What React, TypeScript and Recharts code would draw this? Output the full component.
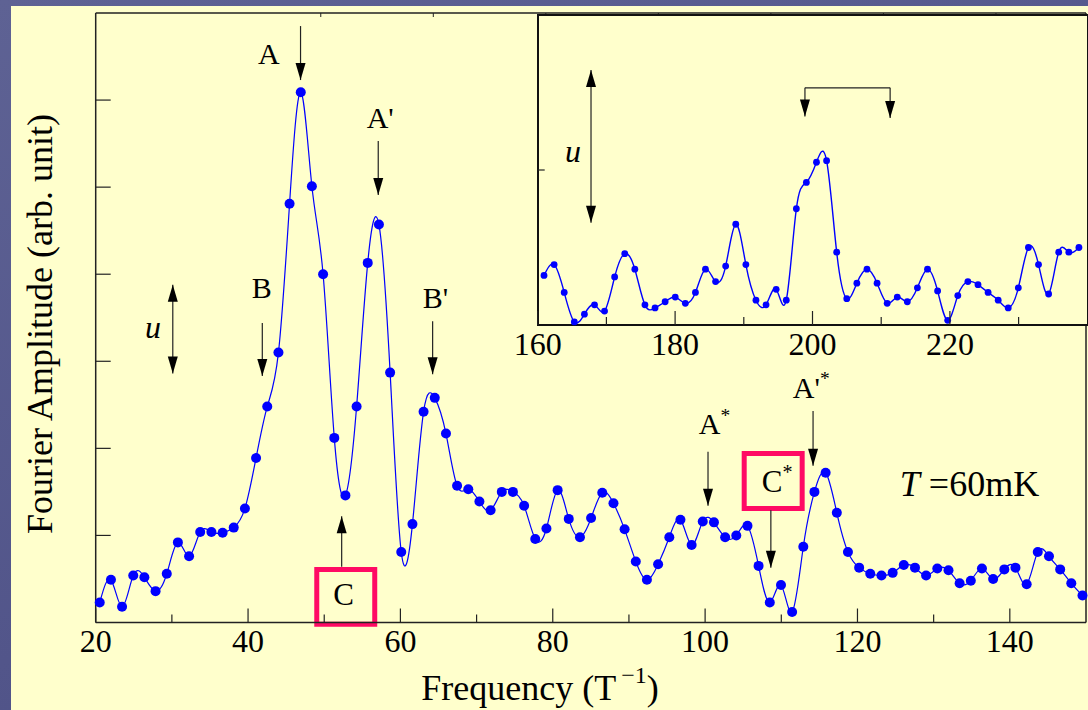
import React from "react";
import { LineChart, Line, XAxis, YAxis, ReferenceLine, ReferenceDot, ReferenceArea } from "recharts";

// Fourier spectrum at T = 60 mK (frequency in 1/T, amplitude in arb. units)
const freq = [
  20.53, 22.0, 23.46, 24.93, 26.39, 27.86, 29.33, 30.79, 32.26, 33.72,
  35.19, 36.66, 38.12, 39.59, 41.05, 42.52, 43.99, 45.45, 46.92, 48.38,
  49.85, 51.32, 52.78, 54.25, 55.71, 57.18, 58.65, 60.11, 61.58, 63.04,
  64.51, 65.98, 67.44, 68.91, 70.37, 71.84, 73.31, 74.77, 76.24, 77.7,
  79.17, 80.64, 82.1, 83.57, 85.03, 86.5, 87.97, 89.43, 90.9, 92.36,
  93.83, 95.3, 96.76, 98.23, 99.69, 101.16, 102.63, 104.09, 105.56, 107.02,
  108.49, 109.96, 111.42, 112.89, 114.35, 115.82, 117.29, 118.75, 120.22, 121.68,
  123.15, 124.62, 126.08, 127.55, 129.01, 130.48, 131.95, 133.41, 134.88, 136.34,
  137.81, 139.28, 140.74, 142.21, 143.67, 145.14, 146.61, 148.07, 149.54,
];
const amplitude = [
  0.23, 0.49, 0.18, 0.54, 0.52, 0.36, 0.56, 0.92, 0.76, 1.04,
  1.04, 1.03, 1.09, 1.31, 1.89, 2.48, 3.1, 4.81, 6.09, 5.01,
  4.0, 2.12, 1.46, 2.48, 4.13, 4.57, 2.87, 0.81, 1.13, 2.42,
  2.58, 2.17, 1.57, 1.53, 1.39, 1.29, 1.5, 1.5, 1.34, 0.96,
  1.08, 1.52, 1.19, 0.98, 1.2, 1.49, 1.37, 1.07, 0.7, 0.49,
  0.67, 0.98, 1.18, 0.89, 1.16, 1.15, 0.98, 1.0, 1.11, 0.65,
  0.23, 0.43, 0.12, 0.87, 1.5, 1.72, 1.26, 0.81, 0.63, 0.56,
  0.54, 0.57, 0.66, 0.63, 0.54, 0.62, 0.6, 0.45, 0.48, 0.62,
  0.5, 0.61, 0.63, 0.44, 0.81, 0.76, 0.61, 0.45, 0.31,
];

// high-frequency window (inset)
const insetFreq = [
  160.92, 162.39, 163.86, 165.33, 166.8, 168.27, 169.73, 171.2, 172.67, 174.14,
  175.61, 177.08, 178.55, 180.02, 181.49, 182.96, 184.42, 185.89, 187.36, 188.83,
  190.3, 191.77, 193.24, 194.71, 196.18, 197.65, 199.11, 200.58, 202.05, 203.52,
  204.99, 206.46, 207.93, 209.4, 210.87, 212.34, 213.8, 215.27, 216.74, 218.21,
  219.68, 221.15, 222.62, 224.09, 225.56, 227.03, 228.49, 229.96, 231.43, 232.9,
  234.37, 235.84, 237.31, 238.78,
];
const insetAmplitude = [
  0.32, 0.39, 0.21, 0.02, 0.07, 0.13, 0.09, 0.31, 0.46, 0.36,
  0.13, 0.11, 0.15, 0.18, 0.14, 0.21, 0.36, 0.28, 0.38, 0.65,
  0.39, 0.16, 0.13, 0.23, 0.16, 0.75, 0.92, 1.05, 1.06, 0.47,
  0.17, 0.27, 0.36, 0.27, 0.14, 0.18, 0.15, 0.24, 0.36, 0.22,
  0.03, 0.19, 0.28, 0.26, 0.21, 0.16, 0.11, 0.24, 0.5, 0.39,
  0.2, 0.47, 0.47, 0.5,
];

const mainTicks = [20, 30, 40, 50, 60, 70, 80, 90, 100, 110, 120, 130, 140];
const mainTickLabels = [20, 40, 60, 80, 100, 120, 140];
const ampTicks = [1, 2, 3, 4, 5, 6];
const insetTicks = [160, 170, 180, 190, 200, 210, 220, 230];
const insetTickLabels = [160, 180, 200, 220];

const mainData = freq.map((f, i) => ({ f, amp: amplitude[i] }));
const insetData = insetFreq.map((f, i) => ({ f, amp: insetAmplitude[i] }));

const serif = '"Liberation Serif", "Times New Roman", Times, serif';
const blue = "#0000ff";
const pink = "#ff0a64";
const ink = "#222";

// peak markers, in data units
const mainArrows = [
  { x: 46.89, from: 6.85, to: 6.23 },
  { x: 57.09, from: 5.53, to: 4.91 },
  { x: 41.87, from: 3.44, to: 2.83 },
  { x: 64.23, from: 3.46, to: 2.85 },
  { x: 30.12, from: 2.86, to: 3.88, both: true },
  { x: 52.29, from: 0.64, to: 1.22 },
  { x: 100.38, from: 1.96, to: 1.34 },
  { x: 108.63, from: 1.29, to: 0.63 },
  { x: 114.17, from: 2.43, to: 1.8 },
];
const mainTags = [
  { x: 41.3, y: 6.42, text: "A" },
  { x: 55.57, y: 5.68, text: "A'" },
  { x: 40.47, y: 3.73, text: "B" },
  { x: 62.92, y: 3.61, text: "B'" },
  { x: 26.47, y: 3.27, text: "u", italic: true, size: 32 },
  { x: 51.19, y: 0.2, text: "C", size: 31 },
  { x: 99.18, y: 2.16, text: "A", sup: "*" },
  { x: 107.45, y: 1.5, text: "C", sup: "*", size: 31 },
  { x: 111.52, y: 2.58, text: "A'", sup: "*" },
  { x: 125.56, y: 1.45, lead: "T", text: " =60mK", size: 36 },
];
const mainBoxes = [
  { x1: 49.02, x2: 56.63, y1: -0.02, y2: 0.61 },
  { x1: 105.13, x2: 112.74, y1: 1.31, y2: 1.94 },
];

const insetArrows = [
  { x: 167.76, from: 0.66, to: 1.645, both: true },
  { x: 198.9, from: 1.53, to: 1.345 },
  { x: 211.3, from: 1.53, to: 1.335 },
];
const insetTags = [{ x: 163.97, y: 1.054, text: "u", italic: true, size: 32 }];

const arrowShape = (both?: boolean) => (p: any) => {
  const { x1, y1, x2, y2 } = p;
  const len = Math.hypot(x2 - x1, y2 - y1) || 1;
  const ux = (x2 - x1) / len;
  const uy = (y2 - y1) / len;
  const hl = 17;
  const hw = 5;
  const head = (tx: number, ty: number, dx: number, dy: number) => {
    const bx = tx - dx * hl;
    const by = ty - dy * hl;
    return `${tx},${ty} ${bx - dy * hw},${by + dx * hw} ${bx + dy * hw},${by - dx * hw}`;
  };
  return (
    <g>
      <line x1={x1} y1={y1} x2={x2} y2={y2} stroke={ink} strokeWidth={1.2} />
      <polygon points={head(x2, y2, ux, uy)} fill="#000" />
      {both && <polygon points={head(x1, y1, -ux, -uy)} fill="#000" />}
    </g>
  );
};

const Tag = ({ cx, cy, t }: { cx: number; cy: number; t: any }) => {
  const size = t.size ?? 30;
  return (
    <text x={cx} y={cy} fontFamily={serif} fontSize={size} fill="#000">
      {t.lead && <tspan fontStyle="italic">{t.lead}</tspan>}
      <tspan fontStyle={t.italic ? "italic" : "normal"}>{t.text}</tspan>
      {t.sup && (
        <tspan dy={-size * 0.42} fontSize={size * 0.65}>
          {t.sup}
        </tspan>
      )}
    </text>
  );
};

const FreqTick = (p: any, labels: number[]) => {
  const v = p.payload.value;
  const major = labels.includes(v);
  return (
    <g key={`tk${v}`}>
      <line x1={p.x} x2={p.x} y1={p.y} y2={p.y - (major ? 14 : 8)} stroke={ink} strokeWidth={1.2} />
      {major && (
        <text x={p.x} y={p.y + 29.5} textAnchor="middle" fontFamily={serif} fontSize={32} fill="#000">
          {v}
        </text>
      )}
    </g>
  );
};

const blank = () => "";

function MainChart() {
  return (
    <LineChart width={1088} height={710} data={mainData} margin={{ top: 13, right: 2, bottom: 87.5, left: 95.7 }}>
      <XAxis
        xAxisId="b"
        dataKey="f"
        type="number"
        domain={[20, 150]}
        ticks={mainTicks}
        interval={0}
        mirror
        tickSize={0}
        tickMargin={0}
        tickLine={false}
        tick={(p: any) => FreqTick(p, mainTickLabels)}
        axisLine={{ stroke: ink, strokeWidth: 1.5 }}
      />
      <XAxis
        xAxisId="t"
        orientation="top"
        type="number"
        domain={[20, 150]}
        ticks={mainTicks}
        interval={0}
        mirror
        tickSize={4}
        tickFormatter={blank}
        tickLine={{ stroke: ink }}
        axisLine={{ stroke: ink, strokeWidth: 1.5 }}
      />
      <YAxis
        yAxisId="l"
        type="number"
        domain={[0, 7]}
        ticks={ampTicks}
        interval={0}
        mirror
        tickSize={15}
        tickFormatter={blank}
        tickLine={{ stroke: ink, strokeWidth: 1.2 }}
        axisLine={{ stroke: ink, strokeWidth: 1.5 }}
      />
      <YAxis
        yAxisId="r"
        orientation="right"
        type="number"
        domain={[0, 7]}
        ticks={ampTicks}
        interval={0}
        mirror
        tickSize={8}
        tickFormatter={blank}
        tickLine={{ stroke: ink }}
        axisLine={{ stroke: ink, strokeWidth: 1.5 }}
      />
      {mainBoxes.map((b, i) => (
        <ReferenceArea
          key={`box${i}`}
          xAxisId="b"
          yAxisId="l"
          x1={b.x1}
          x2={b.x2}
          y1={b.y1}
          y2={b.y2}
          ifOverflow="visible"
          fill="none"
          fillOpacity={0}
          stroke={pink}
          strokeWidth={5}
        />
      ))}
      <Line
        xAxisId="b"
        yAxisId="l"
        dataKey="amp"
        type="natural"
        stroke={blue}
        strokeWidth={1.2}
        dot={{ r: 5, fill: blue, stroke: blue, strokeWidth: 0 }}
        activeDot={false}
        isAnimationActive={false}
      />
      {mainArrows.map((a, i) => (
        <ReferenceLine
          key={`arr${i}`}
          xAxisId="b"
          yAxisId="l"
          segment={[
            { x: a.x, y: a.from },
            { x: a.x, y: a.to },
          ]}
          ifOverflow="visible"
          shape={arrowShape(a.both)}
        />
      ))}
      {mainTags.map((t, i) => (
        <ReferenceDot
          key={`tag${i}`}
          xAxisId="b"
          yAxisId="l"
          x={t.x}
          y={t.y}
          r={0}
          ifOverflow="visible"
          shape={(p: any) => <Tag cx={p.cx} cy={p.cy} t={t} />}
        />
      ))}
    </LineChart>
  );
}

function InsetChart() {
  return (
    <LineChart width={1088} height={710} data={insetData} margin={{ top: 15, right: 0.7, bottom: 385, left: 537.7 }}>
      <XAxis
        xAxisId="b"
        dataKey="f"
        type="number"
        domain={[160, 240]}
        ticks={insetTicks}
        interval={0}
        mirror
        tickSize={0}
        tickMargin={0}
        tickLine={false}
        axisLine={false}
        tick={(p: any) => FreqTick(p, insetTickLabels)}
      />
      <YAxis
        yAxisId="l"
        type="number"
        domain={[0, 2]}
        ticks={[1]}
        interval={0}
        mirror
        tickSize={7}
        tickFormatter={blank}
        tickLine={{ stroke: ink, strokeWidth: 1.2 }}
        axisLine={false}
      />
      <Line
        xAxisId="b"
        yAxisId="l"
        dataKey="amp"
        type="natural"
        stroke={blue}
        strokeWidth={1.4}
        dot={{ r: 3.4, fill: blue, stroke: blue, strokeWidth: 0 }}
        activeDot={false}
        isAnimationActive={false}
      />
      <ReferenceLine
        xAxisId="b"
        yAxisId="l"
        segment={[
          { x: 198.9, y: 1.53 },
          { x: 211.3, y: 1.53 },
        ]}
        ifOverflow="visible"
        stroke={ink}
        strokeWidth={1.2}
      />
      {insetArrows.map((a, i) => (
        <ReferenceLine
          key={`iarr${i}`}
          xAxisId="b"
          yAxisId="l"
          segment={[
            { x: a.x, y: a.from },
            { x: a.x, y: a.to },
          ]}
          ifOverflow="visible"
          shape={arrowShape(a.both)}
        />
      ))}
      {insetTags.map((t, i) => (
        <ReferenceDot
          key={`itag${i}`}
          xAxisId="b"
          yAxisId="l"
          x={t.x}
          y={t.y}
          r={0}
          ifOverflow="visible"
          shape={(p: any) => <Tag cx={p.cx} cy={p.cy} t={t} />}
        />
      ))}
    </LineChart>
  );
}

export default function App() {
  return (
    <div
      style={{
        position: "absolute",
        left: 0,
        top: 0,
        width: 1088,
        height: 710,
        overflow: "hidden",
        background: "linear-gradient(160deg, #5e6294 0%, #52558a 60%, #4a4d80 100%)",
      }}
    >
      <div style={{ position: "absolute", left: 11, top: 6, right: 0, bottom: 0, background: "#ffffcc" }} />
      <div style={{ position: "absolute", left: 0, top: 0 }}>
        <MainChart />
      </div>
      <div
        style={{
          position: "absolute",
          left: 536.7,
          top: 14,
          width: 552,
          height: 312,
          boxSizing: "border-box",
          border: "2px solid #111",
          background: "#ffffcc",
        }}
      />
      <div style={{ position: "absolute", left: 0, top: 0 }}>
        <InsetChart />
      </div>
      <svg width={1088} height={710} style={{ position: "absolute", left: 0, top: 0, pointerEvents: "none" }}>
        <text x={540} y={700} textAnchor="middle" fontFamily={serif} fontSize={36} fill="#000">
          Frequency (T
          <tspan dx={5} dy={-17} fontSize={24}>
            −1
          </tspan>
          <tspan dy={17}>)</tspan>
        </text>
        <text transform="translate(52 324) rotate(-90)" textAnchor="middle" fontFamily={serif} fontSize={36} fill="#000">
          Fourier Amplitude (arb. unit)
        </text>
      </svg>
    </div>
  );
}
